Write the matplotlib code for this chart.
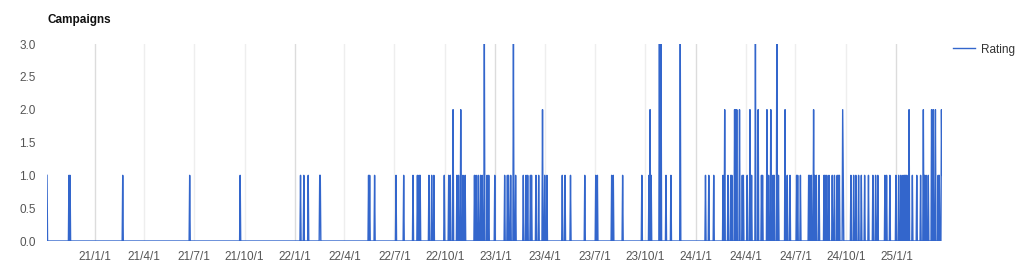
import numpy as np
import pandas as pd
import matplotlib
matplotlib.use("Agg")
import matplotlib.pyplot as plt

plt.rcParams['font.family'] = ['Liberation Sans', 'DejaVu Sans']

# days with a campaign rating (all other days are 0)
rating_dates = [
    "2020-10-06", "2020-11-15", "2020-11-17", "2021-02-21", "2021-06-23", "2021-09-23",
    "2022-01-11", "2022-01-17", "2022-01-25", "2022-02-15", "2022-02-16",
    "2022-05-15", "2022-05-17", "2022-05-26", "2022-07-04", "2022-07-18",
    "2022-08-04", "2022-08-12", "2022-08-15", "2022-08-17",
    "2022-09-02", "2022-09-07", "2022-09-11", "2022-09-30",
    "2022-10-08", "2022-10-11", "2022-10-16", "2022-10-23", "2022-10-26", "2022-10-30",
    "2022-11-03", "2022-11-07", "2022-11-24", "2022-11-27",
    "2022-12-01", "2022-12-05", "2022-12-08", "2022-12-12", "2022-12-17", "2022-12-20", "2022-12-31",
    "2023-01-18", "2023-01-23", "2023-01-25", "2023-01-29", "2023-02-03", "2023-02-07",
    "2023-02-21", "2023-02-26", "2023-03-01", "2023-03-06", "2023-03-08", "2023-03-16",
    "2023-03-21", "2023-03-28", "2023-04-01", "2023-04-05",
    "2023-05-03", "2023-05-08", "2023-05-18", "2023-06-13",
    "2023-07-03", "2023-07-06", "2023-08-01", "2023-08-04", "2023-08-21",
    "2023-09-25", "2023-10-08", "2023-10-10", "2023-10-12", "2023-10-27", "2023-10-30",
    "2023-11-08", "2023-11-17", "2023-12-04",
    "2024-01-19", "2024-01-25", "2024-02-03", "2024-02-20", "2024-02-23", "2024-02-29",
    "2024-03-05", "2024-03-07", "2024-03-12", "2024-03-14", "2024-03-16", "2024-03-21",
    "2024-03-26", "2024-03-28", "2024-04-04", "2024-04-09", "2024-04-12", "2024-04-19",
    "2024-04-24", "2024-04-30", "2024-05-02", "2024-05-10", "2024-05-13", "2024-05-17",
    "2024-05-21", "2024-05-23", "2024-05-28", "2024-05-31",
    "2024-06-12", "2024-06-16", "2024-06-21",
    "2024-07-03", "2024-07-05", "2024-07-10", "2024-07-25", "2024-07-27", "2024-07-30",
    "2024-08-03", "2024-08-05", "2024-08-08", "2024-08-13", "2024-08-22", "2024-08-24",
    "2024-08-27", "2024-08-31", "2024-09-06", "2024-09-10", "2024-09-15", "2024-09-17",
    "2024-09-19", "2024-09-25", "2024-09-26",
    "2024-10-10", "2024-10-15", "2024-10-19", "2024-10-24", "2024-10-29",
    "2024-11-04", "2024-11-11", "2024-11-19", "2024-11-24", "2024-11-28",
    "2024-12-11", "2024-12-14", "2024-12-20", "2024-12-31",
    "2025-01-05", "2025-01-09", "2025-01-13", "2025-01-16", "2025-01-18", "2025-01-20",
    "2025-01-24", "2025-01-30", "2025-02-07", "2025-02-14", "2025-02-19", "2025-02-21",
    "2025-02-24", "2025-02-28", "2025-03-06", "2025-03-09", "2025-03-13", "2025-03-18",
    "2025-03-20", "2025-03-24", "2025-03-25",
]
ratings = [
    1, 1, 1, 1, 1, 1,
    1, 1, 1, 1, 1,
    1, 1, 1, 1, 1,
    1, 1, 1, 1,
    1, 1, 1, 1,
    1, 1, 2, 1, 1, 2,
    1, 1, 1, 1,
    1, 1, 1, 3, 1, 1, 1,
    1, 1, 1, 1, 3, 1,
    1, 1, 1, 1, 1, 1,
    1, 2, 1, 1,
    1, 1, 1, 1,
    1, 1, 1, 1, 1,
    1, 1, 2, 1, 3, 3,
    1, 1, 3,
    1, 1, 1, 1, 2, 1,
    1, 1, 2, 2, 2, 2,
    1, 1, 1, 2, 1, 3,
    2, 1, 1, 2, 1, 2,
    1, 1, 3, 1,
    2, 1, 1,
    1, 1, 1, 1, 1, 1,
    2, 1, 1, 1, 1, 1,
    1, 1, 1, 1, 1, 1,
    1, 2, 1,
    1, 1, 1, 1, 1,
    1, 1, 1, 1, 1,
    1, 1, 1, 1,
    1, 1, 1, 1, 1, 1,
    2, 1, 1, 1, 2, 1,
    1, 1, 2, 2, 2, 1,
    1, 2, 1,
]

days = pd.date_range(rating_dates[0], rating_dates[-1], freq="D")
series = pd.Series(0.0, index=days)
series[pd.to_datetime(rating_dates)] = ratings

fig = plt.figure(figsize=(10.24, 2.76), dpi=100)
ax = fig.add_axes([47 / 1024, 1 - 241 / 276, (942 - 47) / 1024, (241 - 44) / 276])

ax.plot(series.index, series.values, color="#3366cc", lw=1.0, label="Rating")

ax.set_xlim(days[0], days[-1])
ax.set_ylim(0, 3)
ax.set_yticks(np.arange(0, 3.01, 0.5))
ax.yaxis.set_major_formatter(matplotlib.ticker.FormatStrFormatter("%.1f"))

quarters = pd.date_range("2021-01-01", "2025-01-01", freq="QS")
ax.set_xticks(quarters)
ax.set_xticklabels([f"{d.year % 100}/{d.month}/1" for d in quarters])
ax.grid(axis="x", lw=1.0)
for d, gl in zip(quarters, ax.get_xgridlines()):
    gl.set_color("#dcdcdc" if d.month == 1 else "#eeeeee")

for s in ax.spines.values():
    s.set_visible(False)
ax.tick_params(length=0, labelsize=8.5, labelcolor="#555555")
ax.tick_params(axis="x", pad=7)
ax.tick_params(axis="y", pad=8)
ax.set_axisbelow(True)

fig.text(47 / 1024, 1 - 20 / 276, "Campaigns", fontsize=8.5, fontweight="bold",
         color="#111111", va="center")
fig.legend(loc="upper left", bbox_to_anchor=(942 / 1024, 1 - 33 / 276), frameon=False,
           fontsize=8.5, labelcolor="#333333", handlelength=1.9, handletextpad=0.5)

fig.savefig("out.png", dpi=100)
